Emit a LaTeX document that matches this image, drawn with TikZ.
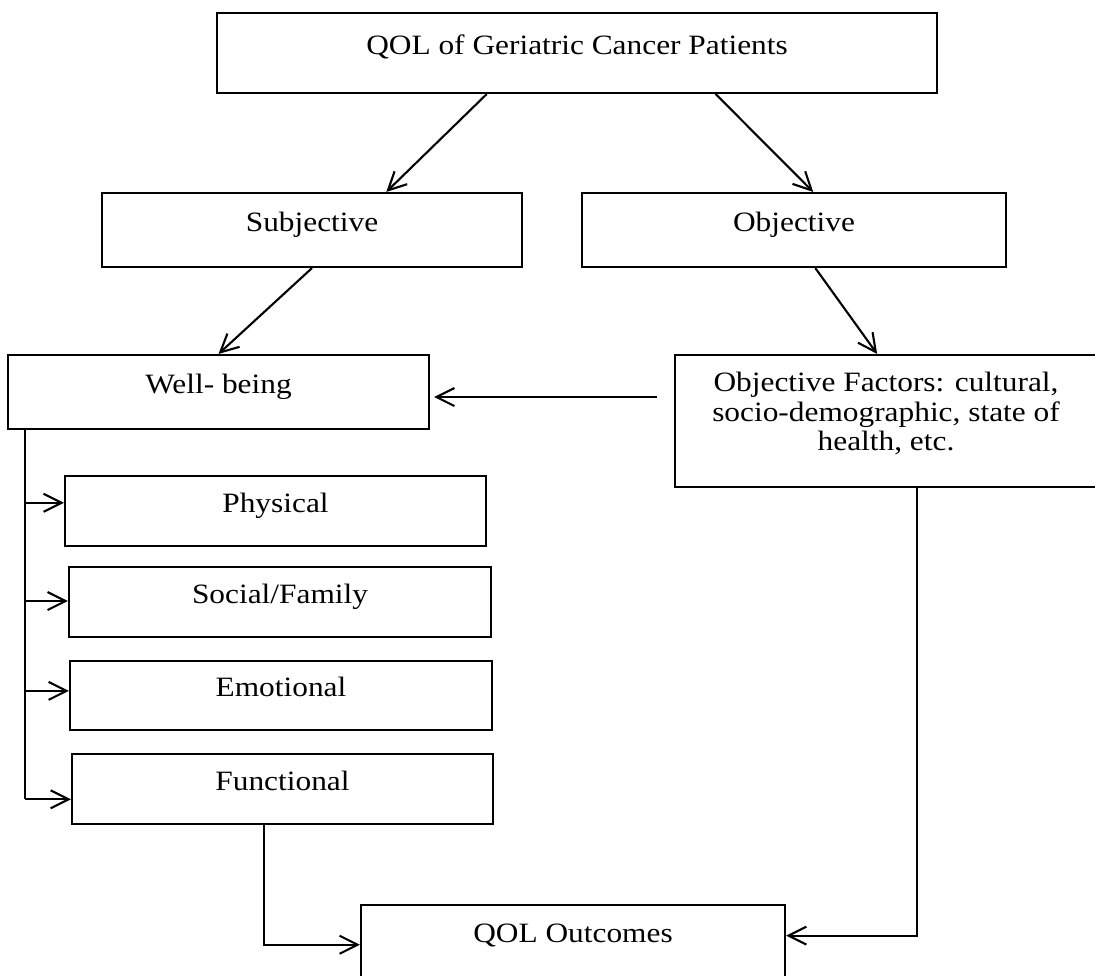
\documentclass[tikz,border=0pt]{standalone}
\usepackage{fontspec}
\setmainfont{Liberation Serif}[FakeStretch=1.12]
\usetikzlibrary{arrows.meta,calc}
\begin{document}
\lineskiplimit=-20pt\relax
\begin{tikzpicture}[x=0.5pt,y=-0.5pt,
  txtfont/.style={font=\fontsize{14}{14.75}\selectfont},
  box/.style={draw, line width=1.05pt, inner sep=0pt, txtfont, text height=10pt, text depth=8.6pt},
  conn/.style={line width=1.05pt, -{Straight Barb[length=9pt,width=9pt,line width=1.05pt]}},
  plain/.style={line width=1.05pt}]
\useasboundingbox (0,0) rectangle (1095,975);
\clip (0,0) rectangle (1095,975);
\fill[white] (0,0) rectangle (1095,975);

\node[box, minimum width=360pt, minimum height=40pt] (top) at (577,53) {QOL of Geriatric Cancer Patients};
\node[box, minimum width=210pt, minimum height=37pt] (subj) at (312,230) {Subjective};
\node[box, minimum width=212pt, minimum height=37pt] (obj) at (794,230) {Objective};
\node[box, minimum width=210.5pt, minimum height=37pt] (well) at (218.5,392) {Well- being};
\node[box, minimum width=211.5pt, minimum height=66pt] (fact) at (886.5,421) {};
\node[txtfont, align=center, inner sep=0pt, anchor=north] (factT) at (886,372) {Objective Factors: cultural,\\socio-demographic, state of\\health, etc.};
\node[box, minimum width=210.5pt, minimum height=35pt] (phys) at (275.5,511) {Physical};
\node[box, minimum width=211pt, minimum height=35pt] (soc) at (280,602) {Social/Family};
\node[box, minimum width=211pt, minimum height=34.5pt] (emo) at (281,695.5) {Emotional};
\node[box, minimum width=210.5pt, minimum height=35pt] (func) at (282.5,789) {Functional};
\node[box, minimum width=212pt, minimum height=47.5pt, text depth=20.5pt] (out) at (573,952.5) {QOL Outcomes};

% top level arrows
\draw[conn] ($(top.south west)!0.375!(top.south east)$) -- ($(subj.north west)!0.676!(subj.north east)$);
\draw[conn] ($(top.south west)!0.692!(top.south east)$) -- ($(obj.north west)!0.545!(obj.north east)$);
\draw[conn] (subj.south) -- (well.north);
\draw[conn] ($(obj.south west)!0.55!(obj.south east)$) -- ($(fact.north west)!0.478!(fact.north east)$);

% factors -> well-being
\coordinate (factL) at (657,397);
\draw[conn, shorten >=2pt] (factL) -- (well.east |- factL);

% trunk and branches
\coordinate (t0) at ($(well.south west)!0.043!(well.south east)$);
\coordinate (p1) at ($(phys.north west)!0.386!(phys.south west)$);
\coordinate (p2) at ($(soc.north west)!0.486!(soc.south west)$);
\coordinate (p3) at ($(emo.north west)!0.435!(emo.south west)$);
\coordinate (p4) at ($(func.north west)!0.643!(func.south west)$);
\draw[plain] (t0) -- (t0 |- p4);
\draw[conn] (t0 |- p1) -- (p1);
\draw[conn] (t0 |- p2) -- (p2);
\draw[conn] (t0 |- p3) -- (p3);
\draw[conn] (t0 |- p4) -- (p4);

% into outcomes
\coordinate (o1) at ($(out.north west)!0.42!(out.south west)$);
\coordinate (o2) at ($(out.north east)!0.326!(out.south east)$);
\draw[conn] ($(func.south west)!0.456!(func.south east)$) |- (o1);
\draw[conn] ($(fact.south west)!0.572!(fact.south east)$) |- (o2);
\end{tikzpicture}
\end{document}
